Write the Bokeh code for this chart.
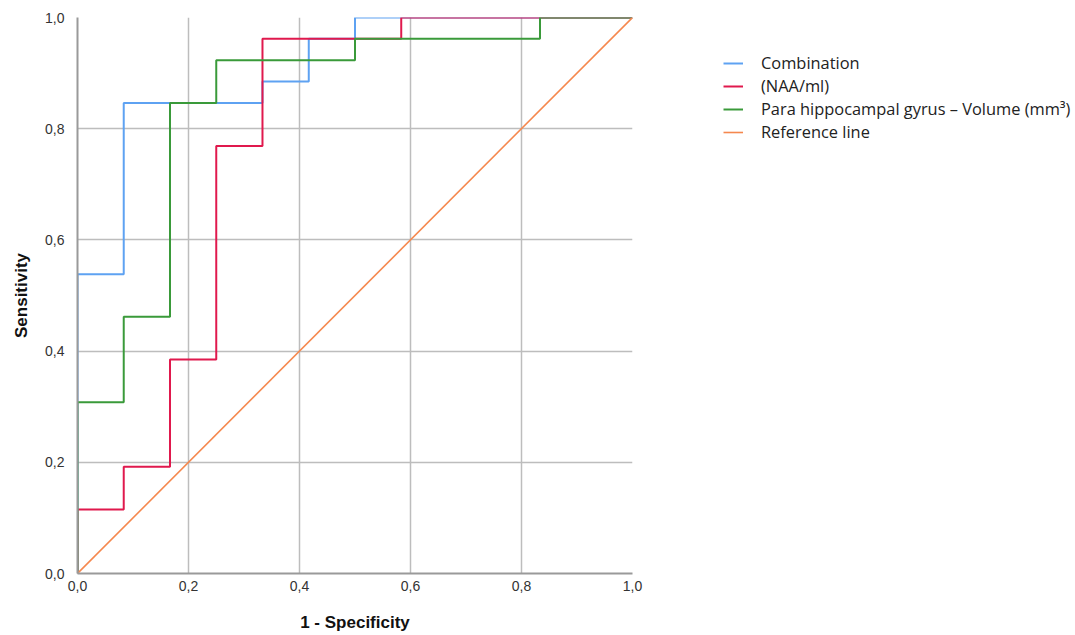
from bokeh.plotting import figure
from bokeh.models import Range1d, FixedTicker, CustomJSTickFormatter, Legend, LegendItem
from bokeh.embed import file_html
from bokeh.resources import INLINE

# ROC curve corner points (1 - specificity, sensitivity)
comb_fpr = [0.0, 0.0, 0.0833, 0.3333, 0.4167, 0.5, 1.0]
comb_tpr = [0.0, 0.538, 0.846, 0.885, 0.962, 1.0, 1.0]

naa_fpr = [0.0, 0.0, 0.0833, 0.1667, 0.25, 0.3333, 0.5833, 1.0]
naa_tpr = [0.0, 0.115, 0.192, 0.385, 0.769, 0.962, 1.0, 1.0]

phg_fpr = [0.0, 0.0, 0.0833, 0.1667, 0.25, 0.5, 0.8333, 1.0]
phg_tpr = [0.0, 0.308, 0.462, 0.846, 0.923, 0.962, 1.0, 1.0]

ref_x = [0.0, 1.0]
ref_y = [0.0, 1.0]

labels = ["Combination", "(NAA/ml)", "Para hippocampal gyrus \u2013 Volume (mm\u00b3)", "Reference line"]
colors = ["#5ea2f2", "#e0194d", "#3a9a3a", "#f5884e"]
ticks = [0.0, 0.2, 0.4, 0.6, 0.8, 1.0]

p = figure(frame_width=555, frame_height=556, output_backend="svg", toolbar_location=None,
           x_range=Range1d(0, 1), y_range=Range1d(0, 1),
           min_border_left=77, min_border_right=0, min_border_top=17, min_border_bottom=62)
p.outline_line_color = None
p.background_fill_color = "white"

r1 = p.step(comb_fpr, comb_tpr, mode="after", line_color=colors[0], line_width=2)
r2 = p.step(naa_fpr, naa_tpr, mode="after", line_color=colors[1], line_width=2)
r3 = p.step(phg_fpr, phg_tpr, mode="after", line_color=colors[2], line_width=2)
r4 = p.line(ref_x, ref_y, line_color=colors[3], line_width=1.6)

fmt = CustomJSTickFormatter(code="return tick.toFixed(1).replace('.', ',');")
for ax in (p.xaxis[0], p.yaxis[0]):
    ax.ticker = FixedTicker(ticks=ticks)
    ax.formatter = fmt
    ax.major_tick_out = 0
    ax.major_tick_in = 0
    ax.minor_tick_out = 0
    ax.minor_tick_in = 0
    ax.axis_line_color = "#9a9a9a"
    ax.axis_line_width = 2
    ax.major_label_text_font = "Liberation Sans"
    ax.major_label_text_font_size = "14px"
    ax.major_label_text_color = "#333333"
    ax.axis_label_text_font = "Liberation Sans"
    ax.axis_label_text_font_style = "bold"
    ax.axis_label_text_font_size = "17px"
    ax.axis_label_text_color = "#111111"

p.xaxis.axis_label = "1 - Specificity"
p.yaxis.axis_label = "Sensitivity"
p.xaxis.major_label_standoff = 7
p.yaxis.major_label_standoff = 13
p.xaxis.axis_label_standoff = 19
p.yaxis.axis_label_standoff = 11

p.grid.grid_line_color = "#bdbdbd"
p.grid.grid_line_width = 1.5
p.grid.ticker = FixedTicker(ticks=ticks)

legend = Legend(items=[LegendItem(label=labels[0], renderers=[r1]),
                       LegendItem(label=labels[1], renderers=[r2]),
                       LegendItem(label=labels[2], renderers=[r3]),
                       LegendItem(label=labels[3], renderers=[r4])],
                location=(91, 430), orientation="vertical")
legend.background_fill_alpha = 0
legend.border_line_color = None
legend.padding = 0
legend.margin = 0
legend.spacing = 0
legend.glyph_width = 20
legend.glyph_height = 22
legend.label_height = 22
legend.label_standoff = 18
legend.label_text_font = "Open Sans"
legend.label_text_font_size = "16.4px"
legend.label_text_color = "#222222"
p.add_layout(legend, "right")

open("out.html", "w").write(file_html(p, INLINE))
